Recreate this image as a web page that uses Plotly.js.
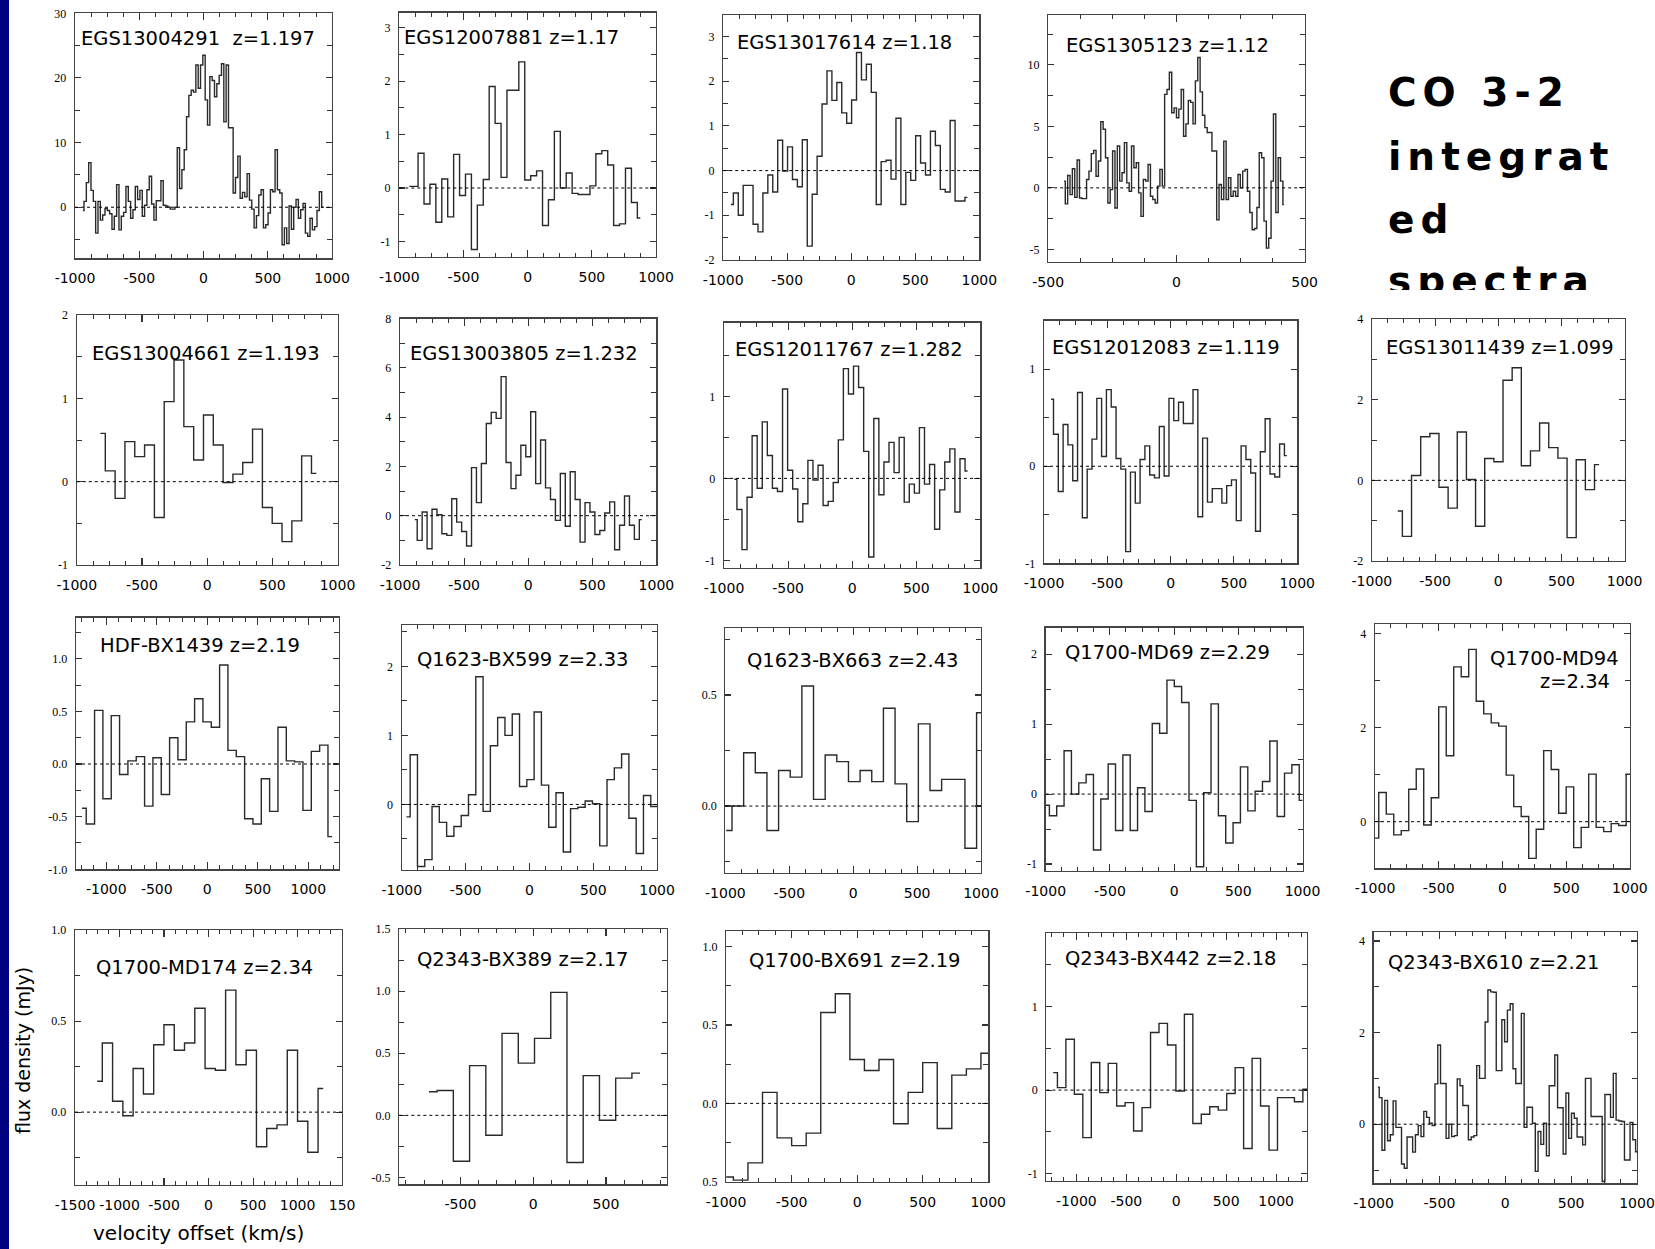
<!DOCTYPE html>
<html><head><meta charset="utf-8">
<script src="https://cdn.plot.ly/plotly-3.0.1.min.js"></script>
<style>
html,body{margin:0;padding:0;background:#fff;}
#chart{width:1655px;height:1249px;}
.textpoint text{letter-spacing:6px;}
</style></head><body><div id="chart"></div>
<script>
// ---------------- DATA ----------------
const panelLabels = ["EGS13004291\u00a0 z=1.197","EGS12007881 z=1.17","EGS13017614 z=1.18","EGS1305123 z=1.12",
 "EGS13004661 z=1.193","EGS13003805 z=1.232","EGS12011767 z=1.282","EGS12012083 z=1.119","EGS13011439 z=1.099",
 "HDF-BX1439 z=2.19","Q1623-BX599 z=2.33","Q1623-BX663 z=2.43","Q1700-MD69 z=2.29","Q1700-MD94",
 "Q1700-MD174 z=2.34","Q2343-BX389 z=2.17","Q1700-BX691 z=2.19","Q2343-BX442 z=2.18","Q2343-BX610 z=2.21"];
const panel14Redshift = "z=2.34";
const coText = ["CO 3-2","integrat","ed","spectra"];
const yTitle = "flux density (mJy)";
const xTitle = "velocity offset (km/s)";

// velocity of first and last channel centre (km/s)
const velRange01=[-939,928], velRange02=[-923,877], velRange03=[-940,907], velRange04=[-438,420];
const velRange05=[-819,838], velRange06=[-885,886], velRange07=[-919,900], velRange08=[-944,918], velRange09=[-795,798];
const velRange10=[-1240,1236], velRange11=[-963,1036], velRange12=[-994,1011], velRange13=[-1000,1003], velRange14=[-1000,1000];
const velRange15=[-1251,1288], velRange16=[-716,734], velRange17=[-1000,1000], velRange18=[-1232,1310], velRange19=[-968,1000];

// flux density per channel (mJy)
const spec01=[-0.5,0.9,3.8,6.9,2.6,0.9,-4.0,0.9,-2.0,-1.2,-0.2,-0.5,-1.0,-3.4,-1.4,3.5,-3.5,-1.4,-0.8,3.2,0.9,-1.7,-0.4,3.2,1.2,2.6,-1.4,0.3,2.7,4.8,0.5,-2.0,1.0,1.0,4.1,0.3,0.2,0.0,-0.3,-0.3,0.0,
 9.2,2.9,5.8,8.9,14.0,17.3,18.1,17.8,22.0,18.4,22.0,23.5,16.6,12.7,20.2,19.6,17.1,19.1,20.4,22.2,13.2,22.0,12.3,12.3,
 2.2,4.6,7.9,1.4,2.3,1.6,5.2,1.1,-0.3,-3.2,-1.3,1.9,2.7,-3.2,-2.7,-0.9,2.7,2.4,8.9,2.7,2.2,-5.8,-3.2,-5.6,0.2,-3.4,0.0,1.2,-1.7,-0.4,0.6,-4.0,-4.5,-1.7,-3.5,-3.0,-0.5,2.4,0.0];
const spec02=[0.03,0.03,0.65,-0.3,0.07,-0.64,0.17,-0.54,0.63,-0.14,0.26,-1.15,-0.32,0.16,1.9,1.21,0.2,1.83,1.83,2.36,0.15,0.23,0.32,-0.7,-0.22,1.06,0.0,0.28,-0.1,-0.12,-0.12,0.04,0.64,0.70,0.43,-0.7,-0.67,0.37,-0.27,-0.56];
const spec03=[-0.76,-0.5,-1.0,-0.33,-0.33,-1.2,-1.37,-0.5,-0.1,-0.48,0.68,-0.01,0.53,-0.2,-0.36,0.69,-1.69,-0.53,0.32,1.49,2.23,1.57,1.97,1.29,1.06,1.58,2.64,2.03,2.38,1.75,-0.76,0.2,0.23,-0.19,1.17,-0.76,-0.04,-0.22,0.78,0.17,-0.1,0.88,0.56,-0.42,-0.48,1.12,-0.68,-0.68,-0.6];
const spec04=[0.55,-1.3,1.0,-0.55,1.55,-0.77,2.26,-0.82,-0.87,-0.87,0.68,1.36,2.78,3.05,0.95,2.18,5.37,4.77,2.45,-1.23,-0.14,3.0,-1.63,3.4,0.55,1.23,3.68,0.41,-0.27,3.4,1.63,2.04,-0.41,-2.32,0.68,0.55,1.9,-0.68,-0.95,-1.23,0.14,1.5,0.14,7.6,8.0,9.4,6.1,6.5,5.7,6.4,8.0,4.2,5.2,7.1,6.95,5.2,8.7,10.6,7.8,5.9,4.9,4.5,4.5,3.0,3.0,-2.6,0.27,-0.95,3.8,-0.95,0.82,-0.68,-0.27,-0.68,1.09,0.0,1.36,1.5,-0.27,-2.0,-3.4,-3.3,-1.6,2.86,2.45,-2.7,-4.9,-4.1,0.55,6.0,-2.0,2.45,0.55,-1.36];
const spec05=[0.58,0.13,-0.2,0.48,0.3,0.44,-0.43,0.96,1.46,0.66,0.26,0.8,0.44,-0.01,0.09,0.23,0.63,-0.31,-0.5,-0.72,-0.47,0.31,0.1];
const spec06=[-0.16,-1.0,0.15,-1.34,0.26,0.04,-0.73,-0.8,0.69,-0.26,-0.64,-1.23,1.95,0.53,2.12,3.74,4.19,3.95,5.64,2.16,1.1,1.64,2.86,2.39,4.22,1.3,3.07,1.13,0.66,-0.19,1.71,-0.43,1.78,0.66,-1.07,0.53,0.15,-0.76,-0.6,0.11,0.56,-1.38,-0.39,0.8,-0.39,-0.96,-0.16];
const spec07=[-0.01,-0.38,-0.87,-0.23,0.52,-0.12,0.69,0.28,-0.12,-0.16,1.09,0.1,-0.13,-0.53,-0.31,0.22,-0.02,0.16,-0.33,-0.28,-0.05,0.47,1.34,1.03,1.37,1.11,0.33,-0.96,0.73,-0.2,0.2,0.44,0.07,0.5,-0.29,-0.07,-0.18,0.62,-0.07,0.17,-0.62,-0.14,0.2,0.36,-0.41,0.24,0.09];
const spec08=[0.69,0.33,-0.26,0.43,0.22,-0.15,0.76,-0.53,-0.03,0.28,0.7,0.1,0.79,0.61,0.08,-0.03,-0.88,-0.06,-0.38,0.07,0.21,-0.09,-0.12,0.41,-0.1,0.7,0.47,0.66,0.44,0.44,0.79,-0.52,0.29,-0.37,-0.23,-0.23,-0.38,-0.2,-0.14,-0.56,0.21,0.07,-0.07,-0.67,0.15,0.49,-0.08,-0.11,0.23,0.11];
const spec09=[-0.76,-1.39,0.12,1.08,1.16,-0.17,-0.69,1.2,0.02,-1.14,0.54,0.46,2.48,2.79,0.36,0.73,1.42,0.81,0.55,-1.42,0.51,-0.23,0.39];
const spec10=[-0.42,-0.57,0.51,-0.33,0.46,-0.1,0.03,0.07,-0.4,0.06,-0.29,0.25,0.04,0.4,0.62,0.4,0.35,0.94,0.13,0.07,-0.52,-0.57,-0.14,-0.45,0.35,0.03,0.02,-0.44,0.12,0.18,-0.69];
const spec11=[-0.18,0.72,-0.9,-0.8,-0.03,-0.26,-0.46,-0.32,-0.16,0.14,1.85,-0.1,0.85,1.26,1.0,1.31,0.26,0.36,1.34,0.28,-0.33,0.17,-0.69,-0.06,-0.04,0.05,0.01,-0.6,0.36,0.53,0.73,-0.2,-0.71,0.13,-0.03,-0.15];
const spec12=[-0.11,0.0,0.24,0.15,-0.11,0.16,0.13,0.54,0.03,0.23,0.2,0.11,0.16,0.11,0.44,0.1,-0.07,0.37,0.07,0.12,0.12,-0.19,0.42];
const spec13=[-0.16,-0.31,-0.17,0.62,0.0,0.16,0.28,-0.8,-0.07,0.43,-0.52,0.56,-0.52,0.09,-0.25,1.01,0.87,1.63,1.54,1.31,-0.09,-1.04,0.02,1.29,-0.31,-0.7,-0.41,0.39,-0.24,0.04,0.18,0.76,-0.32,0.3,0.42,-0.09];
const spec14=[-0.35,0.62,0.16,-0.28,-0.19,0.69,1.12,-0.07,0.51,2.44,1.4,3.29,3.08,3.66,2.56,2.29,2.1,2.03,0.99,0.32,0.11,-0.78,-0.16,1.51,1.11,0.18,0.74,-0.55,-0.12,1.01,-0.12,-0.21,-0.04,-0.08,1.01];
const spec15=[0.17,0.38,0.06,-0.02,0.24,0.1,0.37,0.48,0.34,0.38,0.57,0.24,0.23,0.67,0.26,0.34,-0.19,-0.09,-0.07,0.34,-0.05,-0.22,0.13];
const spec16=[0.19,0.2,-0.37,0.4,-0.16,0.66,0.42,0.62,0.99,-0.38,0.32,-0.04,0.3,0.34];
const spec17=[-0.47,-0.49,-0.38,0.07,-0.22,-0.27,-0.19,0.58,0.7,0.28,0.21,0.28,-0.13,0.07,0.26,-0.16,0.18,0.22,0.32];
const spec18=[0.21,0.03,0.61,-0.05,-0.57,0.33,-0.03,0.32,-0.19,-0.15,-0.49,-0.21,0.69,0.8,0.54,-0.01,0.91,-0.4,-0.29,-0.2,-0.24,-0.04,0.27,-0.7,0.38,-0.19,-0.72,-0.09,-0.09,-0.14,0.01];
const spec19=[0.81,0.58,-0.57,0.52,-0.36,-0.23,0.51,-0.07,-0.07,-0.87,-0.96,-0.28,-0.28,-0.61,-0.23,-0.03,-0.27,0.28,0.15,0.02,-0.03,0.88,1.73,0.89,0.89,-0.31,0.0,-0.27,-0.25,0.99,0.84,0.41,0.41,-0.34,-0.28,-0.25,1.28,1.0,1.0,2.23,2.93,2.89,2.88,1.17,1.17,2.28,1.8,2.49,2.63,1.21,0.89,0.89,2.42,-0.07,0.37,0.37,0.02,-1.03,-0.16,-0.44,0.02,-0.69,0.84,0.84,1.51,0.36,0.36,-0.65,0.68,-0.31,0.24,0.13,-0.28,-0.28,-0.45,1.0,1.0,0.17,0.17,0.17,0.17,-1.25,0.65,0.65,0.15,1.11,0.09,0.07,0.06,-0.78,-0.78,0.04,-0.34,-0.6];

// axis ticks
const xTicksStd=[-1000,-500,0,500,1000], xLabelsStd=["-1000","-500","0","500","1000"];
const xTicksShort=[-500,0,500], xLabelsShort=["-500","0","500"];
const xTicks15=[-1500,-1000,-500,0,500,1000,1500], xLabels15=["-1500","-1000","-500","0","500","1000","150"];
const yTickVals=[[0,10,20,30],[-1,0,1,2,3],[-2,-1,0,1,2,3],[-5,0,5,10],[-1,0,1,2],[-2,0,2,4,6,8],[-1,0,1],[-1,0,1],[-2,0,2,4],
 [-1,-0.5,0,0.5,1],[0,1,2],[0,0.5],[-1,0,1,2],[0,2,4],[0,0.5,1],[-0.5,0,0.5,1,1.5],[-0.5,0,0.5,1],[-1,0,1],[0,2,4]];
const yTickLabels=[["0","10","20","30"],["-1","0","1","2","3"],["-2","-1","0","1","2","3"],["-5","0","5","10"],["-1","0","1","2"],["-2","0","2","4","6","8"],["-1","0","1"],["-1","0","1"],["-2","0","2","4"],
 ["-1.0","-0.5","0.0","0.5","1.0"],["0","1","2"],["0.0","0.5"],["-1","0","1","2"],["0","2","4"],["0.0","0.5","1.0"],["-0.5","0.0","0.5","1.0","1.5"],["0.5","0.0","0.5","1.0"],["-1","0","1"],["0","2","4"]];

// ---------------- LAYOUT ----------------
const W=1655,H=1249;
const boxes=[[75,13.3,332.1,258.3],[399.3,12.7,656.1,256.7],[723.2,15,979.3,260],[1048.2,15,1304.6,261.7],
 [76.8,315,337.5,565],[400,318.5,656.4,565],[724,322.7,980.4,567.7],[1044,320.7,1297.2,563.3],[1371.9,319,1624.6,561],
 [76,617.7,338.6,869.3],[401.8,625,657.1,870],[725.4,628.3,981,872.7],[1045.7,627.7,1302.5,871],[1375,624,1629.9,868.3],
 [75,930,342.1,1185],[399.3,929,667.1,1184.3],[726.1,931,988.2,1181.7],[1046.4,933.3,1307.1,1181],[1373.6,932.3,1637,1183.3]];
const xRanges=[[-1000,1000],[-1000,1000],[-1000,1000],[-500,500],[-1000,1000],[-1000,1000],[-1000,1000],[-1000,1000],[-1000,1000],
 [-1300,1300],[-1000,1000],[-1000,1000],[-1000,1000],[-1000,1000],[-1500,1500],[-920,920],[-1000,1000],[-1300,1310],[-1000,1000]];
const yRanges=[[-7.9,30],[-1.285,3.28],[-2,3.48],[-6,14.05],[-1,2],[-2,8],[-1.09,1.9],[-1,1.5],[-2,4],
 [-1,1.39],[-0.95,2.6],[-0.3,0.8],[-1.1,2.38],[-0.99,4.2],[-0.4,1.0],[-0.555,1.5],[-0.5,1.1],[-1.09,1.88],[-1.29,4.19]];
const yMinor=[5,0.5,0.5,2.5,0.5,1,0.5,0.5,1,0.25,0.5,0.25,0.5,1,0.25,0.25,0.25,0.5,1];
const titlePos=[[78.6,38.3],[401.8,37],[734.6,42.5],[1064.3,45.5],[90.4,354],[408.2,354],[732.9,349.5],[1050,347.5],[1384.2,347.5],
 [98.2,645.8],[415.4,659],[744.6,660.8],[1062.5,652.5],null,[93.6,967.5],[415.4,959],[747.1,960],[1063.2,958.3],[1386,962.5]];

const specs=[spec01,spec02,spec03,spec04,spec05,spec06,spec07,spec08,spec09,spec10,spec11,spec12,spec13,spec14,spec15,spec16,spec17,spec18,spec19];
const velRanges=[velRange01,velRange02,velRange03,velRange04,velRange05,velRange06,velRange07,velRange08,velRange09,velRange10,velRange11,velRange12,velRange13,velRange14,velRange15,velRange16,velRange17,velRange18,velRange19];

const traces=[], shapes=[], annotations=[];
const layout={width:W,height:H,margin:{l:0,r:0,t:0,b:0},paper_bgcolor:'#fff',plot_bgcolor:'rgba(0,0,0,0)',
  showlegend:false,font:{family:'DejaVu Sans',color:'#000'}};
const titleFont={family:'DejaVu Sans',size:19.5,color:'#000'};

for(let i=0;i<19;i++){
  const s=i===0?'':String(i+1);
  const [l,t,r,b]=boxes[i];
  const vals=specs[i], [v0,v1]=velRanges[i];
  const dc=(v1-v0)/(vals.length-1);
  const xs=vals.map((_,k)=>v0+k*dc);
  traces.push({type:'scatter',mode:'lines',x:xs,y:vals,xaxis:'x'+s,yaxis:'y'+s,
    line:{shape:'hvh',color:'#2a2a2a',width:1.4},hoverinfo:'skip',showlegend:false});
  let xt=xTicksStd, xl=xLabelsStd;
  if(i===3||i===15){xt=xTicksShort;xl=xLabelsShort;}
  if(i===14){xt=xTicks15;xl=xLabels15;}
  layout['xaxis'+s]={domain:[l/W,r/W],range:xRanges[i],anchor:'y'+s,fixedrange:true,
    showgrid:false,zeroline:false,showline:true,linecolor:'#444',linewidth:1.3,mirror:'allticks',
    ticks:'inside',ticklen:7,tickwidth:1.1,tickcolor:'#333',
    tickmode:'array',tickvals:xt,ticktext:xl,tickfont:{family:'DejaVu Sans',size:14,color:'#000'},ticklabelstandoff:7,
    minor:{tickmode:'linear',tick0:0,dtick:125,ticks:'inside',ticklen:4,tickwidth:1,tickcolor:'#333',showgrid:false}};
  layout['yaxis'+s]={domain:[1-b/H,1-t/H],range:yRanges[i],anchor:'x'+s,fixedrange:true,
    showgrid:false,zeroline:false,showline:true,linecolor:'#444',linewidth:1.3,mirror:'allticks',
    ticks:'inside',ticklen:6,tickwidth:1.1,tickcolor:'#333',
    tickmode:'array',tickvals:yTickVals[i],ticktext:yTickLabels[i],tickfont:{family:'Liberation Serif',size:12,color:'#000'},ticklabelstandoff:5,
    minor:{tickmode:'linear',tick0:0,dtick:yMinor[i],ticks:'inside',ticklen:5,tickwidth:1,tickcolor:'#333',showgrid:false}};
  shapes.push({type:'line',xref:'x'+s+' domain',x0:0,x1:1,yref:'y'+s,y0:0,y1:0,layer:'above',
    line:{color:'#000',width:1,dash:'dot'}});
  if(titlePos[i]){
    annotations.push({xref:'paper',yref:'paper',x:titlePos[i][0]/W,y:1-titlePos[i][1]/H,xanchor:'left',yanchor:'middle',
      text:panelLabels[i],showarrow:false,font:titleFont});
  }
}
// panel 14 two-line, right-aligned label
annotations.push({xref:'paper',yref:'paper',x:1621.4/W,y:1-658.7/H,xanchor:'right',yanchor:'middle',text:panelLabels[13],showarrow:false,font:titleFont});
annotations.push({xref:'paper',yref:'paper',x:1612.2/W,y:1-681.7/H,xanchor:'right',yanchor:'middle',text:panel14Redshift,showarrow:false,font:titleFont});
// axis titles
annotations.push({xref:'paper',yref:'paper',x:23/W,y:1-1051/H,xanchor:'center',yanchor:'middle',textangle:-90,text:yTitle,showarrow:false,font:{family:'DejaVu Sans',size:19,color:'#000'}});
annotations.push({xref:'paper',yref:'paper',x:198/W,y:1-1233/H,xanchor:'center',yanchor:'middle',text:xTitle,showarrow:false,font:{family:'DejaVu Sans',size:20,color:'#000'}});

// clipped heading text on its own invisible subplot
layout.xaxis20={domain:[1380/W,1],range:[1380,1655],anchor:'y20',visible:false,fixedrange:true};
layout.yaxis20={domain:[1-290/H,1-60/H],range:[290,60],anchor:'x20',visible:false,fixedrange:true};
const coBase=[110,173.5,237,298];
traces.push({type:'scatter',mode:'text',x:coText.map(()=>1388),y:coBase.map(v=>v-13.6),text:coText,
  textposition:'middle right',cliponaxis:true,xaxis:'x20',yaxis:'y20',hoverinfo:'skip',showlegend:false,
  textfont:{family:'DejaVu Sans',size:39,color:'#000',weight:'bold'}});

// navy strip on the left edge
shapes.push({type:'rect',xref:'paper',yref:'paper',x0:0,x1:9/W,y0:0,y1:1,line:{width:0},fillcolor:'#000080',layer:'above'});

layout.shapes=shapes; layout.annotations=annotations;
Plotly.newPlot('chart',traces,layout,{staticPlot:true,displayModeBar:false});
</script></body></html>
